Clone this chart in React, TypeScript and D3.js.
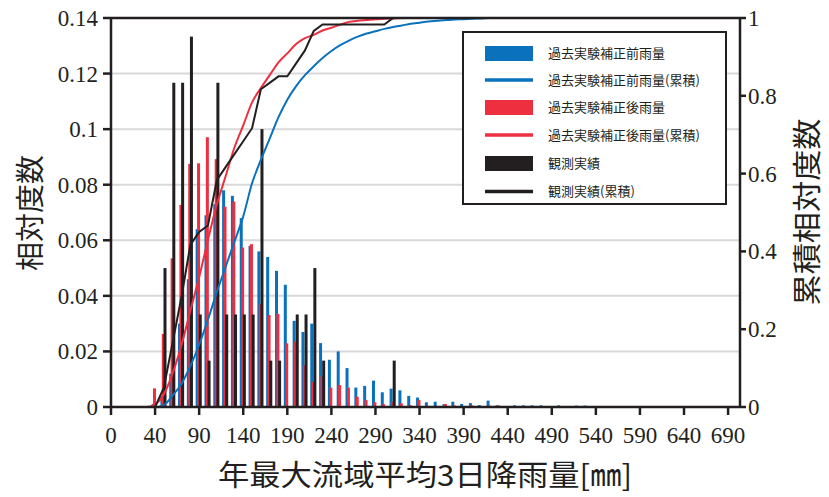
import React from "react";
import * as d3 from "d3";

// bin index k (0..71); tick every 5 bins
const xTickLabels = [0, 40, 90, 140, 190, 240, 290, 340, 390, 440, 490, 540, 590, 640, 690];

// relative frequency, bins k = 0..54
const freqBefore = [
  0, 0, 0, 0, 0, 0.001, 0.004, 0.012, 0.03, 0.046,
  0.064, 0.069, 0.073, 0.078, 0.076, 0.068, 0.058, 0.056, 0.054, 0.049,
  0.044, 0.031, 0.027, 0.03, 0.023, 0.017, 0.02, 0.014, 0.007, 0.0076,
  0.0095, 0.0053, 0.0066, 0.006, 0.004, 0.0034, 0.0017, 0.0019, 0.001, 0.0019,
  0.0011, 0.0014, 0.0007, 0.0023, 0.0006, 0, 0.0006, 0.0006, 0.0006, 0.0006,
  0, 0.0006, 0, 0.0005, 0.0005,
];
const freqAfter = [
  0, 0, 0, 0, 0, 0.0067, 0.0263, 0.0535, 0.0727, 0.0875,
  0.0877, 0.0971, 0.0892, 0.0721, 0.0739, 0.0574, 0.0586, 0.037, 0.0331, 0.0335,
  0.0229, 0.0235, 0.015, 0.009, 0.011, 0.007, 0.0079, 0.007, 0.0037, 0.0025,
  0.0017, 0.001, 0.0019, 0.0013, 0.0007, 0.0025, 0.0004, 0.0004, 0.0011, 0.0006,
  0, 0.0006, 0, 0.0005, 0.0006,
];
const freqObs = [
  0, 0, 0, 0, 0, 0, 0.05, 0.1167, 0.1167, 0.1333,
  0.0333, 0.0167, 0.1167, 0.0333, 0.0333, 0.0333, 0.0333, 0.1, 0.0167, 0.0167,
  0, 0.0333, 0.0333, 0.05, 0.0167, 0, 0, 0, 0, 0,
  0, 0, 0.0167,
];

// cumulative relative frequency
const cumBefore = [
  0, 0, 0, 0, 0, 0, 0.005, 0.03, 0.06, 0.105,
  0.16, 0.225, 0.295, 0.36, 0.425, 0.49, 0.575, 0.635, 0.69, 0.745,
  0.79, 0.825, 0.853, 0.876, 0.897, 0.915, 0.93, 0.942, 0.952, 0.96,
  0.966, 0.972, 0.977, 0.981, 0.985, 0.988, 0.991, 0.993, 0.995, 0.996,
  0.997, 0.998, 0.999, 1, 1, 1, 1, 1, 1, 1,
  1, 1, 1, 1, 1, 1, 1, 1, 1, 1,
  1, 1, 1, 1, 1, 1, 1, 1, 1, 1,
  1, 1,
];
const cumAfter = [
  0, 0, 0, 0, 0, 0.007, 0.033, 0.087, 0.16, 0.247,
  0.334, 0.43, 0.52, 0.593, 0.667, 0.724, 0.783, 0.82, 0.853, 0.886,
  0.909, 0.933, 0.948, 0.957, 0.968, 0.975, 0.983, 0.99, 0.993, 0.995,
  0.997, 0.998, 0.999, 1, 1, 1, 1, 1, 1, 1,
  1, 1, 1, 1, 1, 1, 1, 1, 1, 1,
  1, 1, 1, 1, 1, 1, 1, 1, 1, 1,
  1, 1, 1, 1, 1, 1, 1, 1, 1, 1,
  1, 1,
];
const cumObs = [
  0, 0, 0, 0, 0, 0, 0.05, 0.1667, 0.2833, 0.4167,
  0.45, 0.4667, 0.5833, 0.6167, 0.65, 0.6833, 0.7167, 0.8167, 0.8333, 0.85,
  0.85, 0.8833, 0.9167, 0.9667, 0.9833, 0.9833, 0.9833, 0.9833, 0.9833, 0.9833,
  0.9833, 0.9833, 1, 1, 1, 1, 1, 1, 1, 1,
  1, 1, 1, 1, 1, 1, 1, 1, 1, 1,
  1, 1, 1, 1, 1, 1, 1, 1, 1, 1,
  1, 1, 1, 1, 1, 1, 1, 1, 1, 1,
  1, 1,
];

const leftTicks = [0, 0.02, 0.04, 0.06, 0.08, 0.1, 0.12, 0.14];
const rightTicks = [0, 0.2, 0.4, 0.6, 0.8, 1];

const BLUE = "#0a72bd";
const RED = "#ee2f3f";
const BLACK = "#231f20";
const GRID = "#d9d9d9";

const legendItems = [
  { label: "過去実験補正前雨量", color: BLUE, kind: "bar" },
  { label: "過去実験補正前雨量(累積)", color: BLUE, kind: "line" },
  { label: "過去実験補正後雨量", color: RED, kind: "bar" },
  { label: "過去実験補正後雨量(累積)", color: RED, kind: "line" },
  { label: "観測実績", color: BLACK, kind: "bar" },
  { label: "観測実績(累積)", color: BLACK, kind: "line" },
];

export default function App() {
  const left = 111, right = 740, top = 18, bottom = 407;
  const x = d3.scaleLinear().domain([0, 71.35]).range([left, right]);
  const y = d3.scaleLinear().domain([0, 0.14]).range([bottom, top]);
  const y2 = d3.scaleLinear().domain([0, 1]).range([bottom, top]);
  const bw = 3;

  const barSeries = [
    { data: freqBefore, color: BLUE, off: -2.0 },
    { data: freqAfter, color: RED, off: -0.6 },
    { data: freqObs, color: BLACK, off: 1.1 },
  ];

  const smooth = d3.line<number>().x((_, i) => x(i)).y(d => y2(d)).curve(d3.curveMonotoneX);
  const straight = d3.line<number>().x((_, i) => x(i)).y(d => y2(d));

  const serif = "'Liberation Serif', 'Times New Roman', serif";
  const jp = "'Noto Sans CJK JP', sans-serif";

  return (
    <div style={{ position: "fixed", left: 0, top: 0 }}>
      <svg width={829} height={497} style={{ display: "block", background: "#fff" }}>
        {/* gridlines */}
        {leftTicks.slice(1, -1).map(t => (
          <line key={t} x1={left} x2={right} y1={y(t)} y2={y(t)} stroke={GRID} strokeWidth={2} />
        ))}

        {/* bars */}
        {barSeries.map((s, si) => (
          <g key={si} fill={s.color}>
            {s.data.map((v, k) =>
              v > 0 ? (
                <rect key={k} x={x(k) + s.off - bw / 2} y={y(v)} width={bw} height={y(0) - y(v)} />
              ) : null
            )}
          </g>
        ))}

        {/* cumulative lines */}
        <path d={smooth(cumBefore) || ""} fill="none" stroke={BLUE} strokeWidth={2} />
        <path d={smooth(cumAfter) || ""} fill="none" stroke={RED} strokeWidth={2} />
        <path d={straight(cumObs) || ""} fill="none" stroke={BLACK} strokeWidth={2} />

        {/* frame */}
        <g stroke={BLACK} strokeWidth={2.5}>
          <line x1={left} x2={right} y1={top} y2={top} />
          <line x1={left} x2={right} y1={bottom} y2={bottom} />
          <line x1={left} x2={left} y1={top} y2={bottom} />
          <line x1={right} x2={right} y1={top} y2={bottom} />
          {leftTicks.map(t => (
            <line key={t} x1={left - 8} x2={left} y1={y(t)} y2={y(t)} />
          ))}
          {rightTicks.map(t => (
            <line key={t} x1={right} x2={right + 6} y1={y2(t)} y2={y2(t)} />
          ))}
          {xTickLabels.map((_, i) => (
            <line key={i} x1={x(i * 5)} x2={x(i * 5)} y1={bottom} y2={bottom + 8} />
          ))}
        </g>

        {/* tick labels */}
        <g fontFamily={serif} fontSize={23} fill={BLACK}>
          {leftTicks.map(t => (
            <text key={t} x={left - 13} y={y(t)} dy="0.35em" textAnchor="end">{t}</text>
          ))}
          {rightTicks.map(t => (
            <text key={t} x={right + 8} y={y2(t)} dy="0.35em" textAnchor="start">{t}</text>
          ))}
          {xTickLabels.map((l, i) => (
            <text key={i} x={x(i * 5)} y={443} textAnchor="middle">{l}</text>
          ))}
        </g>

        {/* axis titles */}
        <g fontFamily={jp} fontSize={29} fill={BLACK}>
          <text transform="translate(41,213) rotate(-90)" textAnchor="middle">相対度数</text>
          <text transform="translate(798,212) rotate(-90)" textAnchor="middle" dy="0.7em" textLength={187} lengthAdjust="spacingAndGlyphs">累積相対度数</text>
          <text x={425} y={486} textAnchor="middle" textLength={414} lengthAdjust="spacingAndGlyphs">年最大流域平均3日降雨量[㎜]</text>
        </g>

        {/* legend */}
        <rect x={463} y={32} width={263} height={172} fill="#fff" stroke={BLACK} strokeWidth={2} />
        {legendItems.map((it, i) => {
          const cy = [53.5, 80, 107.5, 135, 163.5, 191.5][i];
          return (
            <g key={i}>
              {it.kind === "bar" ? (
                <rect x={485} y={cy - 7.5} width={48} height={15} fill={it.color} />
              ) : (
                <line x1={485} x2={533} y1={cy} y2={cy} stroke={it.color} strokeWidth={3.5} />
              )}
              <text x={548} y={cy} dy="0.35em" fontFamily={jp} fontSize={13} fill={BLACK}>{it.label}</text>
            </g>
          );
        })}
      </svg>
    </div>
  );
}
